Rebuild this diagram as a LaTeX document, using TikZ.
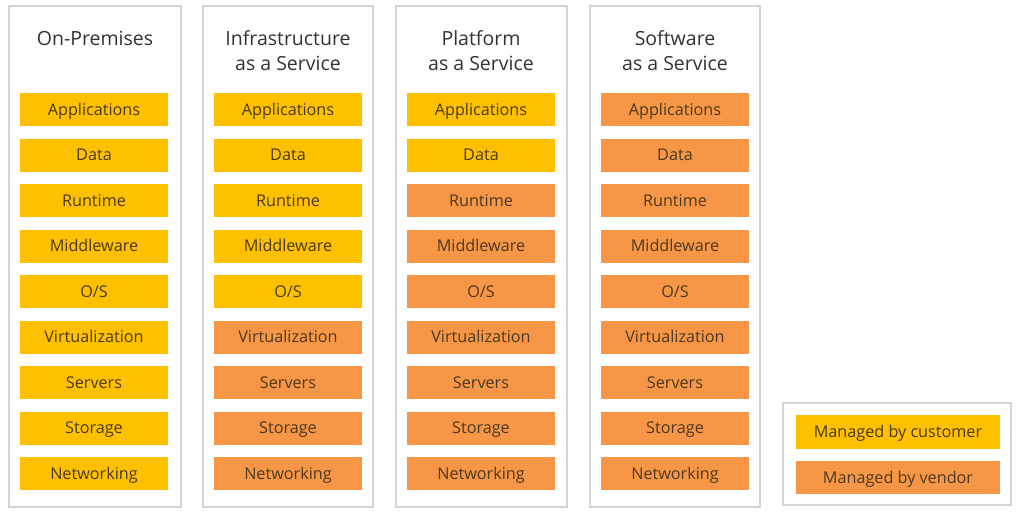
\documentclass[tikz,border=0pt]{standalone}
\usepackage{fontspec}
\setmainfont{Open Sans}
\definecolor{cust}{HTML}{FFC000}
\definecolor{vend}{HTML}{F79646}
\definecolor{panelline}{HTML}{D4D4D4}
\definecolor{boxtext}{HTML}{4A3B20}
\definecolor{titletext}{HTML}{333333}
\begin{document}
\begin{tikzpicture}[x=1pt,y=-1pt,
  panel/.style={draw=panelline,line width=1.2pt,fill=white},
  layer/.style={minimum width=148pt,minimum height=33pt,inner sep=0pt,text height=12.8pt,text depth=1.5pt,font=\fontsize{16.2}{18}\selectfont,text=boxtext},
  custbox/.style={layer,fill=cust},
  vendbox/.style={layer,fill=vend},
  title/.style={align=center,font=\fontsize{19.5}{25}\selectfont,text=titletext}]
\useasboundingbox (0,0) rectangle (1024,524);
\fill[white] (0,0) rectangle (1024,524);
% panels
\draw[panel] (9,6) rectangle (181,507);
\draw[panel] (203,6) rectangle (373,507);
\draw[panel] (396,6) rectangle (567,507);
\draw[panel] (590,6) rectangle (760,507);
\draw[panel] (783,403) rectangle (1011,505);
% titles
\node[title] (t1) at (95,38) {On-Premises};
\node[title] (t2) at (288,50.5) {Infrastructure\\as a Service};
\node[title] (t3) at (481,50.5) {Platform\\as a Service};
\node[title] (t4) at (675,50.5) {Software\\as a Service};
% layers
\def\names{{"Applications","Data","Runtime","Middleware","O/S","Virtualization","Servers","Storage","Networking"}}
\foreach \c/\x/\n in {1/94/9,2/288/5,3/481/2,4/675/0}{
  \foreach \i in {0,...,8}{
    \pgfmathsetmacro{\y}{109.5+45.5*\i}
    \pgfmathsetmacro{\lbl}{\names[\i]}
    \ifnum\i<\n
      \node[custbox] (c\c r\i) at (\x,\y) {\lbl};
    \else
      \node[vendbox] (c\c r\i) at (\x,\y) {\lbl};
    \fi
  }
}
% legend
\node[custbox,minimum width=204pt,minimum height=34pt] (lc) at (898,432) {Managed by customer};
\node[vendbox,minimum width=204pt,minimum height=33pt] (lv) at (898,477.5) {Managed by vendor};
\end{tikzpicture}
\end{document}
